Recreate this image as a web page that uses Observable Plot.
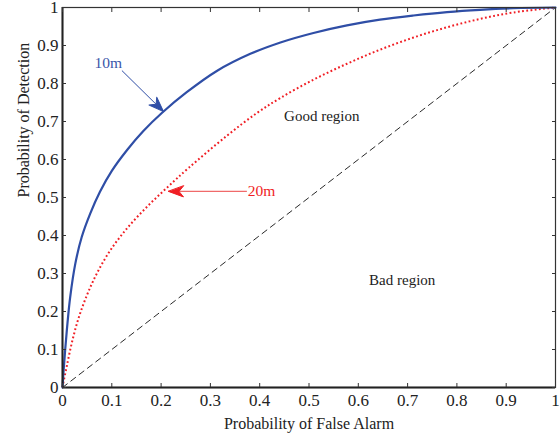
<!DOCTYPE html>
<html><head><meta charset="utf-8">
<script src="https://cdn.jsdelivr.net/npm/d3@7"></script>
<script src="https://cdn.jsdelivr.net/npm/@observablehq/plot@0.6"></script>
<style>body{margin:0;background:#fff}</style>
</head><body><div id="chart"></div>
<script>
// ROC curve, 10 m
const pfa10 = [0, 0.002, 0.0055, 0.010, 0.0156, 0.026, 0.039, 0.056, 0.076, 0.100, 0.131, 0.164, 0.202, 0.252, 0.313, 0.381, 0.442, 0.509, 0.577, 0.644, 0.712, 0.780, 0.847, 0.915, 1];
const pd10  = [0, 0.040, 0.100, 0.168, 0.238, 0.326, 0.396, 0.457, 0.515, 0.570, 0.625, 0.675, 0.723, 0.777, 0.833, 0.878, 0.908, 0.933, 0.953, 0.968, 0.979, 0.988, 0.994, 0.998, 1];
// ROC curve, 20 m
const pfa20 = [0, 0.002, 0.009, 0.019, 0.032, 0.049, 0.070, 0.097, 0.131, 0.171, 0.212, 0.256, 0.333, 0.394, 0.442, 0.509, 0.577, 0.644, 0.712, 0.780, 0.847, 0.915, 1];
const pd20  = [0, 0.014, 0.058, 0.118, 0.180, 0.241, 0.301, 0.361, 0.419, 0.475, 0.526, 0.578, 0.662, 0.722, 0.762, 0.810, 0.852, 0.889, 0.921, 0.948, 0.970, 0.987, 1];
// chance line
const chanceX = [0, 1];
const chanceY = [0, 1];
// ticks
const xTicks = [0, 0.1, 0.2, 0.3, 0.4, 0.5, 0.6, 0.7, 0.8, 0.9, 1];
const xTickLabels = ["0", "0.1", "0.2", "0.3", "0.4", "0.5", "0.6", "0.7", "0.8", "0.9", "1"];
const yTicks = [0, 0.1, 0.2, 0.3, 0.4, 0.5, 0.6, 0.7, 0.8, 0.9, 1];
const yTickLabels = ["0", "0.1", "0.2", "0.3", "0.4", "0.5", "0.6", "0.7", "0.8", "0.9", "1"];
// annotations
const regionLabels = ["Good region", "Bad region"];
const regionX = [0.526, 0.689];
const regionY = [0.713, 0.282];
const seriesLabels = ["10m", "20m"];
const seriesLabelX = [0.093, 0.376];
const seriesLabelY = [0.855, 0.516];
const arrowX1 = [0.1205, 0.374];
const arrowY1 = [0.834, 0.516];
const arrowX2 = [0.205, 0.215];
const arrowY2 = [0.726, 0.516];

const BLUE = "#2f4ea6", RED = "#f01e24";
const FONT = "'Liberation Serif', 'Times New Roman', serif";
const curve10 = pfa10.map((x, i) => ({x, y: pd10[i]}));
const curve20 = pfa20.map((x, i) => ({x, y: pd20[i]}));
const chance = chanceX.map((x, i) => ({x, y: chanceY[i]}));
const regions = regionLabels.map((t, i) => ({t, x: regionX[i], y: regionY[i]}));
const arrows = arrowX1.map((x1, i) => ({x1, y1: arrowY1[i], x2: arrowX2[i], y2: arrowY2[i]}));

const W = 560, H = 436;
const base = {
  width: W, height: H,
  marginLeft: 62, marginRight: 5, marginTop: 7, marginBottom: 49,
  x: {domain: [0, 1]}, y: {domain: [0, 1]}
};
const probe = Plot.plot({...base, marks: [Plot.frame()]});
const sx = probe.scale("x"), sy = probe.scale("y");
arrows.forEach(a => {
  const dx = sx.apply(a.x2) - sx.apply(a.x1);
  const dy = sy.apply(a.y2) - sy.apply(a.y1);
  a.angle = Math.atan2(dx, -dy) * 180 / Math.PI;
});
const head = {draw(ctx) { ctx.moveTo(0, 0); ctx.lineTo(-5.5, 15); ctx.lineTo(0, 10.5); ctx.lineTo(5.5, 15); ctx.closePath(); }};

const fmtX = d => xTickLabels[xTicks.indexOf(d)];
const fmtY = d => yTickLabels[yTicks.indexOf(d)];

const chart = Plot.plot({
  ...base,
  style: {fontFamily: FONT, fontSize: "16px", color: "#222", background: "#fff", overflow: "visible"},
  marks: [
    Plot.line(chance, {x: "x", y: "y", stroke: "#111", strokeWidth: 0.9, strokeDasharray: "6 4.5"}),
    Plot.line(curve20, {x: "x", y: "y", stroke: RED, strokeWidth: 2, strokeDasharray: "1.8 2.4", strokeLinecap: "butt", curve: "catmull-rom"}),
    Plot.line(curve10, {x: "x", y: "y", stroke: BLUE, strokeWidth: 2.2, curve: "catmull-rom"}),
    Plot.link([arrows[0]], {x1: "x1", y1: "y1", x2: "x2", y2: "y2", stroke: BLUE, strokeWidth: 1}),
    Plot.link([arrows[1]], {x1: "x1", y1: "y1", x2: "x2", y2: "y2", stroke: "#f06a6a", strokeWidth: 1.2}),
    Plot.vector([arrows[0]], {x: "x2", y: "y2", rotate: "angle", shape: head, anchor: "start", length: 15, fill: BLUE, stroke: BLUE, strokeWidth: 1}),
    Plot.vector([arrows[1]], {x: "x2", y: "y2", rotate: "angle", shape: head, anchor: "start", length: 15, fill: RED, stroke: RED, strokeWidth: 1}),
    Plot.text(regions, {x: "x", y: "y", text: "t", fill: "#222", fontSize: 15}),
    Plot.text([seriesLabels[0]], {x: () => seriesLabelX[0], y: () => seriesLabelY[0], text: d => d, fill: "#3a57aa", fontSize: 15.5}),
    Plot.text([seriesLabels[1]], {x: () => seriesLabelX[1], y: () => seriesLabelY[1], text: d => d, fill: RED, fontSize: 15.5, textAnchor: "start"}),
    Plot.frame({stroke: "#333", strokeWidth: 1.2}),
    Plot.ruleX([0], {stroke: "#222", strokeWidth: 2}),
    Plot.ruleY([0], {stroke: "#222", strokeWidth: 2}),
    Plot.axisX({ticks: xTicks, tickFormat: fmtX, tickSize: -4, tickPadding: 10, label: null, fontSize: 17, stroke: "#333"}),
    Plot.axisX({anchor: "top", ticks: xTicks, tickFormat: () => "", tickSize: -4, label: null, stroke: "#333"}),
    Plot.axisY({ticks: yTicks, tickFormat: fmtY, tickSize: -4, tickPadding: 8, label: null, fontSize: 17, stroke: "#333"}),
    Plot.axisY({anchor: "right", ticks: yTicks, tickFormat: () => "", tickSize: -4, label: null, stroke: "#333"}),
    Plot.text(["Probability of False Alarm"], {frameAnchor: "bottom", dy: 41, text: d => d, fill: "#222", fontSize: 16}),
    Plot.text(["Probability of Detection"], {frameAnchor: "left", dx: -39, rotate: -90, text: d => d, fill: "#222", fontSize: 16})
  ]
});
document.getElementById("chart").appendChild(chart);
</script>
</body></html>
